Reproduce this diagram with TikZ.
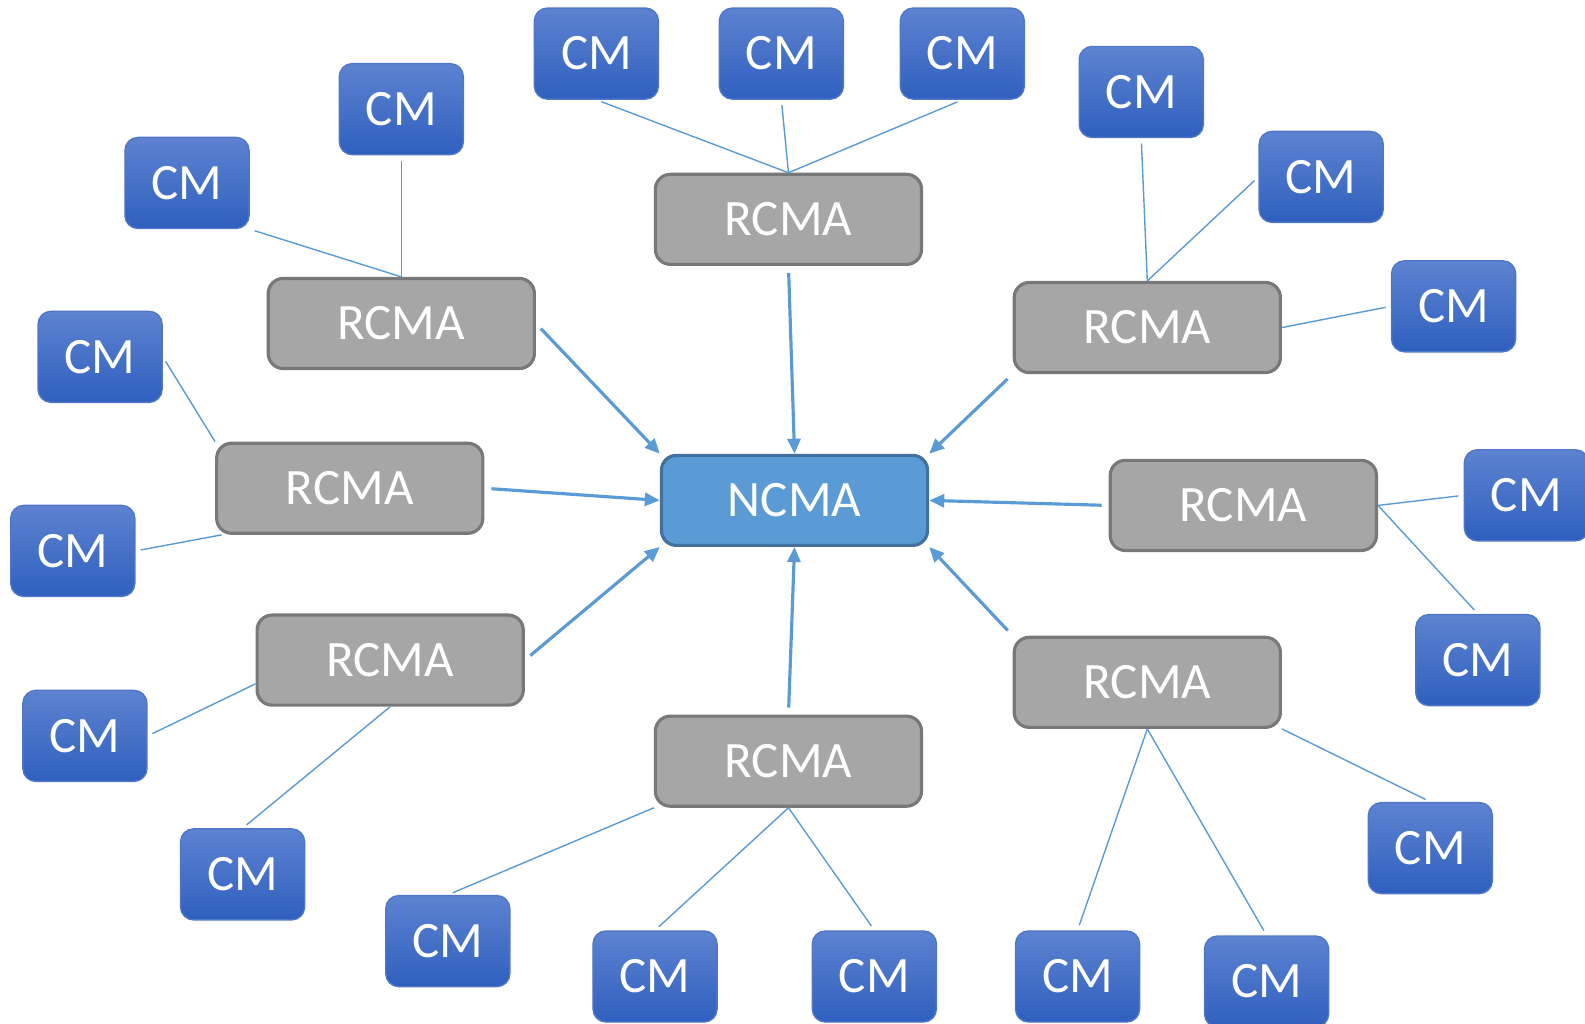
\documentclass[tikz,border=0pt]{standalone}
\usepackage{fontspec}
\setmainfont{Carlito}
\usetikzlibrary{shapes,arrows.meta}
\definecolor{cmtop}{RGB}{93,131,209}
\definecolor{cmbot}{RGB}{47,95,190}
\definecolor{cmedge}{RGB}{80,118,200}
\definecolor{linkblue}{RGB}{91,155,213}
\definecolor{ncmaedge}{RGB}{65,113,156}

\begin{document}
\begin{tikzpicture}[x=0.010108cm, y=-0.010108cm]
\tikzset{
	cmbox/.style={draw=cmedge,
		rounded corners=0.13cm,
		top color=cmtop,
		bottom color=cmbot,
		minimum width=1.24cm,
		minimum height=0.91cm,
		text=white,
		font=\fontsize{14.5}{16}\selectfont},
	rcmabox/.style={draw=black!53,
		line width=0.9pt,
		rounded corners=0.15cm,
		fill=black!35,
		minimum width=2.66cm,
		minimum height=0.9cm,
		text=white,
		font=\fontsize{14.5}{16}\selectfont},
	link/.style={draw=linkblue, line width=0.4pt, shorten <=1.5pt},
	feed/.style={draw=linkblue, line width=0.9pt, shorten <=2pt,
		-{Triangle[length=0.15cm,width=0.13cm]}}
}

\useasboundingbox (0,0) rectangle (1568,1013);

\node[rcmabox, draw=ncmaedge, fill=linkblue] (NCMA) at (786,495) {NCMA};

\node[rcmabox] (RT) at (780,217) {RCMA};
\node[rcmabox] (RLT) at (397,320) {RCMA};
\node[rcmabox] (RLM) at (346,483) {RCMA};
\node[rcmabox] (RLB) at (386,653) {RCMA};
\node[rcmabox] (RB) at (780,753) {RCMA};
\node[rcmabox] (RRB) at (1135,675) {RCMA};
\node[rcmabox] (RRM) at (1230,500) {RCMA};
\node[rcmabox] (RRT) at (1135,324) {RCMA};

\node[cmbox] (CMT1) at (590,53) {CM};
\node[cmbox] (CMT2) at (773,53) {CM};
\node[cmbox] (CMT3) at (952,53) {CM};
\node[cmbox] (CMLT1) at (397,108) {CM};
\node[cmbox] (CMLT2) at (185,181) {CM};
\node[cmbox] (CMLM1) at (99,353) {CM};
\node[cmbox] (CMLM2) at (72,545) {CM};
\node[cmbox] (CMLB1) at (84,728) {CM};
\node[cmbox] (CMLB2) at (240,865) {CM};
\node[cmbox] (CMB1) at (443,931) {CM};
\node[cmbox] (CMB2) at (648,966) {CM};
\node[cmbox] (CMB3) at (865,966) {CM};
\node[cmbox] (CMRB1) at (1066,966) {CM};
\node[cmbox] (CMRB2) at (1253,971) {CM};
\node[cmbox] (CMRB3) at (1415,839) {CM};
\node[cmbox] (CMRM1) at (1510,490) {CM};
\node[cmbox] (CMRM2) at (1462,653) {CM};
\node[cmbox] (CMRT1) at (1129,91) {CM};
\node[cmbox] (CMRT2) at (1307,175) {CM};
\node[cmbox] (CMRT3) at (1438,303) {CM};

% CM to RCMA
{\draw[link] (CMT1.south) -- (RT.north);}
{\draw[link] (CMT2.south) -- (RT.north);}
{\draw[link] (CMT3.south) -- (RT.north);}
{\draw[link] (CMLT1.south) -- (RLT.north);}
{\draw[link] (CMLT2.south east) -- (RLT.north);}
{\draw[link] (CMLM1.east) -- (RLM.north west);}
{\draw[link] (CMLM2.east) -- (RLM.200);}
{\draw[link] (CMLB1.east) -- (RLB.190);}
{\draw[link] (CMLB2.north) -- (RLB.south);}
{\draw[link] (CMB1.north) -- (RB.south west);}
{\draw[link] (CMB2.north) -- (RB.south);}
{\draw[link] (CMB3.north) -- (RB.south);}
{\draw[link] (CMRB1.north) -- (RRB.south);}
{\draw[link] (CMRB2.north) -- (RRB.south);}
{\draw[link] (CMRB3.north) -- (RRB.south east);}
{\draw[link] (CMRM1.west) -- (RRM.east);}
{\draw[link] (CMRM2.north) -- (RRM.east);}
{\draw[link] (CMRT1.south) -- (RRT.north);}
{\draw[link] (CMRT2.west) -- (RRT.north);}
{\draw[link] (CMRT3.west) -- (RRT.east);}

% RCMA to NCMA
{\draw[feed] (RT.south) -- (NCMA.north);}
{\draw[feed] (RLT.east) -- (NCMA.north west);}
{\draw[feed] (RLM.east) -- (NCMA.west);}
{\draw[feed] (RLB.east) -- (NCMA.south west);}
{\draw[feed] (RB.north) -- (NCMA.south);}
{\draw[feed] (RRB.north west) -- (NCMA.south east);}
{\draw[feed] (RRM.west) -- (NCMA.east);}
{\draw[feed] (RRT.south west) -- (NCMA.north east);}
\end{tikzpicture}
\end{document}
